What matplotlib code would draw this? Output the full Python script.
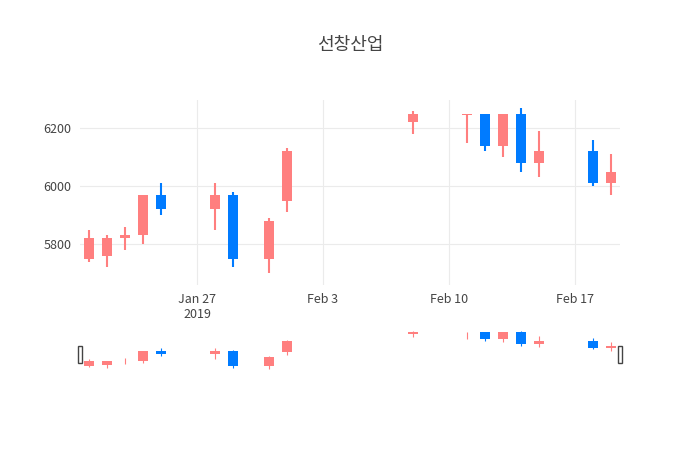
import matplotlib
matplotlib.use("Agg")
import matplotlib.pyplot as plt
import matplotlib.dates as mdates
import numpy as np
import pandas as pd

plt.rcParams["font.family"] = ["Noto Sans CJK KR", "DejaVu Sans"]

dates = pd.to_datetime([
    "2019-01-21", "2019-01-22", "2019-01-23", "2019-01-24", "2019-01-25",
    "2019-01-28", "2019-01-29", "2019-01-31", "2019-02-01", "2019-02-08",
    "2019-02-11", "2019-02-12", "2019-02-13", "2019-02-14", "2019-02-15",
    "2019-02-18", "2019-02-19",
])
opens = [5750, 5760, 5820, 5830, 5970, 5920, 5970, 5750, 5950, 6220,
         6245, 6250, 6140, 6250, 6080, 6120, 6010]
highs = [5850, 5830, 5860, 5970, 6010, 6010, 5980, 5890, 6130, 6260,
         6250, 6250, 6250, 6270, 6190, 6160, 6110]
lows = [5740, 5720, 5780, 5800, 5900, 5850, 5720, 5700, 5910, 6180,
        6150, 6120, 6100, 6050, 6030, 6000, 5970]
closes = [5820, 5820, 5830, 5970, 5920, 5970, 5750, 5880, 6120, 6250,
          6250, 6140, 6250, 6080, 6120, 6010, 6050]

UP, DOWN = "#FF7F7F", "#007BFF"
x = mdates.date2num(dates)
cols = [UP if c >= o else DOWN for o, c in zip(opens, closes)]


def draw(ax, wick_lw, body_w):
    for xi, o, h, l, c, col in zip(x, opens, highs, lows, closes, cols):
        ax.vlines(xi, l, h, color=col, lw=wick_lw, zorder=2)
        lo, hi = min(o, c), max(o, c)
        ax.bar(xi, max(hi - lo, 2), bottom=lo, width=body_w, color=col, zorder=3)


fig = plt.figure(figsize=(7, 4.5), dpi=100)
ax = fig.add_axes([80 / 700, 1 - 285 / 450, 540 / 700, 185 / 450])
draw(ax, 1.5, 0.6)
x0 = mdates.date2num(pd.Timestamp("2019-01-20 12:00"))
x1 = mdates.date2num(pd.Timestamp("2019-02-19 12:00"))
ax.set_xlim(x0, x1)
ax.set_ylim(5659, 6297)
ax.set_yticks([5800, 6000, 6200])
ax.set_yticklabels(["5800", "6000", "6200"])
ticks = pd.to_datetime(["2019-01-27", "2019-02-03", "2019-02-10", "2019-02-17"])
ax.set_xticks(mdates.date2num(ticks))
ax.set_xticklabels(["Jan 27\n2019", "Feb 3", "Feb 10", "Feb 17"])
ax.grid(color="#EBEBEB", lw=0.8, zorder=0)
for s in ax.spines.values():
    s.set_visible(False)
ax.tick_params(length=0, labelsize=9, colors="#444444", pad=6)

# range slider
rs = fig.add_axes([80 / 700, 1 - 370 / 450, 540 / 700, 40 / 450])
draw(rs, 0.8, 0.6)
rs.set_xlim(x0, x1)
rs.set_ylim(5690, 6280)
rs.set_xticks([])
rs.set_yticks([])
for s in rs.spines.values():
    s.set_visible(False)
for hx in (x0, x1):
    rs.add_patch(plt.Rectangle((hx - 0.12, 5800), 0.24, 250, facecolor="white",
                               edgecolor="#444444", lw=1, zorder=5, clip_on=False))

fig.text(0.5, 1 - 45 / 450, "선창산업", ha="center", va="center", fontsize=13,
         color="#444444")
fig.savefig("out.png", dpi=100)
